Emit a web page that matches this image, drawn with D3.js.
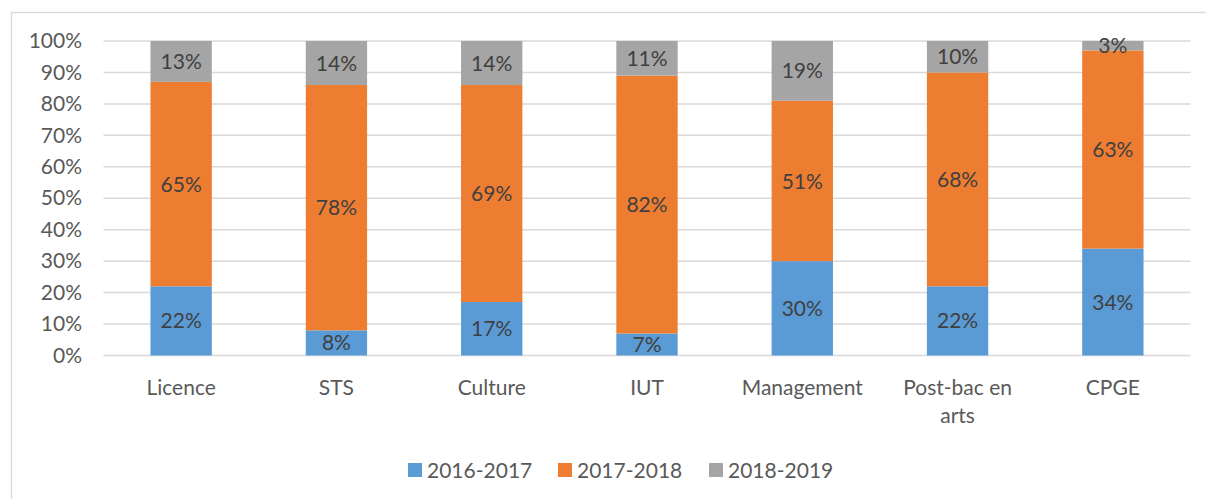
<!DOCTYPE html>
<html>
<head>
<meta charset="utf-8">
<script src="https://cdn.jsdelivr.net/npm/d3@7"></script>
<style>
  html, body { margin: 0; padding: 0; background: #fff; }
  svg { display: block; font-family: Lato, "Liberation Sans", sans-serif; }
</style>
</head>
<body>
<svg id="chart" width="1206" height="499"></svg>
<script>
// Share of each cohort per programme
const categories = ["Licence", "STS", "Culture", "IUT", "Management", "Post-bac en arts", "CPGE"];
const seriesNames = ["2016-2017", "2017-2018", "2018-2019"];
const v2016 = [22, 8, 17, 7, 30, 22, 34];
const v2017 = [65, 78, 69, 82, 51, 68, 63];
const v2018 = [13, 14, 14, 11, 19, 10, 3];
const colors = ["#5B9BD5", "#ED7D31", "#A5A5A5"];
const yTicks = [0, 10, 20, 30, 40, 50, 60, 70, 80, 90, 100];
// Category labels split onto lines where they wrap
const labelLines = [["Licence"], ["STS"], ["Culture"], ["IUT"], ["Management"], ["Post-bac en", "arts"], ["CPGE"]];

const rows = categories.map((c, i) => ({ cat: c, "2016-2017": v2016[i], "2017-2018": v2017[i], "2018-2019": v2018[i] }));
const stacked = d3.stack().keys(seriesNames)(rows);

const svg = d3.select("#chart");
const fontSize = 21;

// Chart frame
svg.append("rect")
  .attr("x", 11.5).attr("y", 12.5)
  .attr("width", 1206).attr("height", 500)
  .attr("fill", "none").attr("stroke", "#D9D9D9").attr("stroke-width", 1.3);

const x = d3.scaleBand().domain(categories).range([103.5, 1190.5]).paddingInner(0.605).paddingOuter(0.3025);
const y = d3.scaleLinear().domain([0, 100]).range([355.5, 41]);

// Horizontal gridlines
svg.append("g").selectAll("line").data(yTicks).join("line")
  .attr("x1", 103.5).attr("x2", 1190.5)
  .attr("y1", d => y(d)).attr("y2", d => y(d))
  .attr("stroke", "#D9D9D9").attr("stroke-width", 1.5);

// Y axis labels
const yAxis = svg.append("g").attr("transform", "translate(82,0)")
  .call(d3.axisLeft(y).tickValues(yTicks).tickFormat(d => d + "%").tickSize(0).tickPadding(0));
yAxis.select(".domain").remove();
yAxis.selectAll("text")
  .attr("font-family", "Lato, sans-serif").attr("font-size", fontSize).attr("fill", "#595959");

// Stacked bars
const layers = svg.append("g").selectAll("g").data(stacked).join("g")
  .attr("fill", (d, i) => colors[i]);
layers.selectAll("rect").data(d => d).join("rect")
  .attr("x", d => x(d.data.cat))
  .attr("width", x.bandwidth())
  .attr("y", d => y(d[1]))
  .attr("height", d => y(d[0]) - y(d[1]));

// Value labels centred in each segment
const labels = svg.append("g").selectAll("g").data(stacked).join("g");
labels.selectAll("text").data(d => d.map(p => ({ p, key: d.key }))).join("text")
  .attr("x", d => x(d.p.data.cat) + x.bandwidth() / 2)
  .attr("y", d => (y(d.p[0]) + y(d.p[1])) / 2)
  .attr("dy", "0.36em")
  .attr("text-anchor", "middle")
  .attr("font-size", fontSize)
  .attr("fill", "#404040")
  .text(d => d.p.data[d.key] + "%");

// Category labels
const xl = svg.append("g").selectAll("text").data(categories).join("text")
  .attr("x", d => x(d) + x.bandwidth() / 2)
  .attr("y", 395)
  .attr("text-anchor", "middle")
  .attr("font-size", fontSize)
  .attr("fill", "#595959");
xl.selectAll("tspan").data((d, i) => labelLines[i]).join("tspan")
  .attr("x", function () { return this.parentNode.getAttribute("x"); })
  .attr("dy", (d, i) => i === 0 ? 0 : 28)
  .text(d => d);

// Legend
const legendX = [408, 558, 709];
const legend = svg.append("g").selectAll("g").data(seriesNames).join("g")
  .attr("transform", (d, i) => `translate(${legendX[i]},463)`);
legend.append("rect").attr("width", 14).attr("height", 14).attr("fill", (d, i) => colors[i]);
legend.append("text").attr("x", 19).attr("y", 14.5)
  .attr("font-size", fontSize).attr("fill", "#595959").text(d => d);
</script>
</body>
</html>
